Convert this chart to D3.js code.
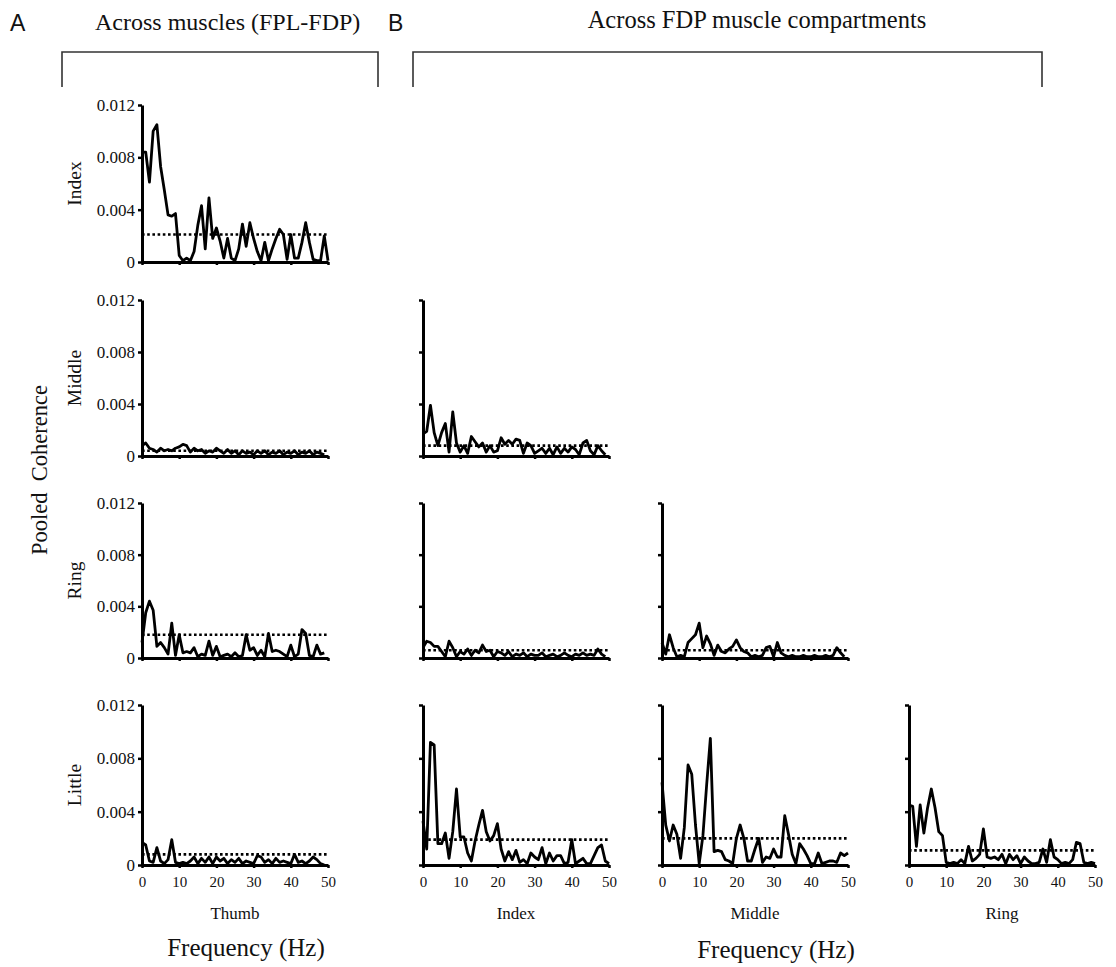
<!DOCTYPE html>
<html>
<head>
<meta charset="utf-8">
<script src="https://cdn.jsdelivr.net/npm/d3@7"></script>
<style>
  body { margin: 0; background: #fff; }
  svg text { fill: #111; }
</style>
</head>
<body>
<script>
// labels and ticks
var rowNames = ['Index', 'Middle', 'Ring', 'Little'];
var colNames = ['Thumb', 'Index', 'Middle', 'Ring'];
var yTicks = [0, 0.004, 0.008, 0.012];
var xTicks = [0, 10, 20, 30, 40, 50];

// pooled coherence, one value per 1 Hz bin
var thumbIndex = [0.0084,0.0084,0.0061,0.0100,0.0105,0.0073,0.0055,0.0036,0.0035,0.0037,0.0005,0.0001,0.0003,0.0001,0.0008,0.0028,0.0043,0.0010,0.0049,0.0018,0.0026,0.0016,0.0003,0.0018,0.0003,0.0001,0.0010,0.0029,0.0012,0.0030,0.0018,0.0008,0.0001,0.0015,0.0001,0.0010,0.0018,0.0025,0.0021,0.0002,0.0021,0.0003,0.0003,0.0015,0.0030,0.0015,0.0002,0.0001,0.0001,0.0020,0.0001];
var thumbMiddle = [0.0008,0.0010,0.0006,0.0005,0.0003,0.0006,0.0004,0.0005,0.0004,0.0006,0.0007,0.0009,0.0008,0.0003,0.0006,0.0004,0.0005,0.0002,0.0004,0.0003,0.0006,0.0004,0.0002,0.0005,0.0002,0.0004,0.0001,0.0004,0.0002,0.0003,0.0001,0.0004,0.0002,0.0004,0.0001,0.0003,0.0002,0.0004,0.0001,0.0003,0.0002,0.0004,0.0001,0.0003,0.0002,0.0004,0.0001,0.0003,0.0002,0.0001];
var thumbRing = [0.0012,0.0035,0.0044,0.0037,0.0009,0.0012,0.0008,0.0003,0.0027,0.0002,0.0018,0.0004,0.0005,0.0004,0.0008,0.0001,0.0003,0.0002,0.0013,0.0002,0.0009,0.0001,0.0002,0.0003,0.0001,0.0004,0.0001,0.0002,0.0018,0.0006,0.0008,0.0002,0.0006,0.0001,0.0019,0.0005,0.0006,0.0005,0.0003,0.0001,0.0010,0.0001,0.0003,0.0022,0.0019,0.0002,0.0001,0.0010,0.0003,0.0004];
var thumbLittle = [0.0017,0.0015,0.0003,0.0002,0.0013,0.0003,0.0001,0.0004,0.0019,0.0002,0.0001,0.0002,0.0001,0.0003,0.0006,0.0001,0.0005,0.0002,0.0006,0.0001,0.0006,0.0003,0.0005,0.0001,0.0004,0.0002,0.0005,0.0001,0.0003,0.0002,0.0001,0.0007,0.0006,0.0002,0.0004,0.0001,0.0005,0.0002,0.0003,0.0002,0.0001,0.0008,0.0002,0.0003,0.0001,0.0003,0.0006,0.0004,0.0001,0.0000];
var indexMiddle = [0.0017,0.0019,0.0039,0.0018,0.0008,0.0018,0.0025,0.0003,0.0034,0.0010,0.0003,0.0008,0.0002,0.0015,0.0011,0.0007,0.0010,0.0003,0.0008,0.0003,0.0004,0.0014,0.0009,0.0012,0.0009,0.0013,0.0012,0.0002,0.0010,0.0008,0.0002,0.0004,0.0006,0.0002,0.0006,0.0001,0.0007,0.0002,0.0006,0.0003,0.0007,0.0005,0.0001,0.0010,0.0012,0.0004,0.0001,0.0008,0.0004,0.0001];
var indexRing = [0.0008,0.0013,0.0012,0.0009,0.0009,0.0005,0.0001,0.0013,0.0008,0.0001,0.0005,0.0003,0.0007,0.0002,0.0006,0.0004,0.0010,0.0005,0.0006,0.0001,0.0005,0.0004,0.0002,0.0005,0.0001,0.0003,0.0002,0.0004,0.0001,0.0003,0.0002,0.0002,0.0004,0.0001,0.0002,0.0003,0.0001,0.0002,0.0004,0.0002,0.0001,0.0003,0.0002,0.0004,0.0002,0.0003,0.0002,0.0007,0.0003,0.0001];
var indexLittle = [0.0033,0.0012,0.0092,0.0090,0.0016,0.0016,0.0024,0.0005,0.0025,0.0057,0.0021,0.0021,0.0009,0.0003,0.0018,0.0030,0.0041,0.0025,0.0018,0.0022,0.0031,0.0012,0.0003,0.0010,0.0004,0.0011,0.0002,0.0004,0.0001,0.0009,0.0006,0.0004,0.0013,0.0001,0.0009,0.0003,0.0007,0.0007,0.0001,0.0002,0.0019,0.0001,0.0003,0.0005,0.0001,0.0001,0.0007,0.0013,0.0015,0.0003,0.0001];
var middleRing = [0.0012,0.0003,0.0018,0.0008,0.0001,0.0002,0.0001,0.0012,0.0015,0.0018,0.0027,0.0008,0.0017,0.0011,0.0002,0.0010,0.0005,0.0004,0.0007,0.0009,0.0014,0.0008,0.0005,0.0004,0.0001,0.0002,0.0001,0.0002,0.0008,0.0009,0.0001,0.0012,0.0004,0.0002,0.0001,0.0002,0.0001,0.0001,0.0002,0.0001,0.0001,0.0002,0.0001,0.0001,0.0002,0.0001,0.0002,0.0008,0.0004,0.0001];
var middleLittle = [0.0062,0.0030,0.0018,0.0030,0.0023,0.0005,0.0028,0.0075,0.0068,0.0030,0.0001,0.0022,0.0060,0.0095,0.0010,0.0011,0.0010,0.0004,0.0003,0.0001,0.0020,0.0030,0.0020,0.0003,0.0003,0.0012,0.0020,0.0002,0.0006,0.0005,0.0012,0.0006,0.0006,0.0037,0.0023,0.0008,0.0001,0.0016,0.0012,0.0007,0.0001,0.0001,0.0009,0.0001,0.0002,0.0003,0.0003,0.0002,0.0009,0.0007,0.0009];
var ringLittle = [0.0045,0.0044,0.0014,0.0045,0.0024,0.0043,0.0057,0.0043,0.0025,0.0022,0.0002,0.0001,0.0002,0.0001,0.0004,0.0001,0.0014,0.0003,0.0005,0.0008,0.0027,0.0006,0.0005,0.0006,0.0004,0.0008,0.0001,0.0008,0.0004,0.0007,0.0001,0.0006,0.0003,0.0001,0.0001,0.0002,0.0012,0.0002,0.0019,0.0006,0.0004,0.0001,0.0002,0.0001,0.0004,0.0017,0.0016,0.0002,0.0001,0.0002,0.0001];

// significance levels (dotted lines), same order as the panel list below
var thresholds = [0.0021, 0.0004, 0.0018, 0.0008, 0.0008, 0.0006, 0.0019, 0.0006, 0.0020, 0.0011];

var panels = [
  {row: 0, col: 0, values: thumbIndex},
  {row: 1, col: 0, values: thumbMiddle},
  {row: 2, col: 0, values: thumbRing},
  {row: 3, col: 0, values: thumbLittle},
  {row: 1, col: 1, values: indexMiddle},
  {row: 2, col: 1, values: indexRing},
  {row: 3, col: 1, values: indexLittle},
  {row: 2, col: 2, values: middleRing},
  {row: 3, col: 2, values: middleLittle},
  {row: 3, col: 3, values: ringLittle}
];
panels.forEach(function(p, i) { p.threshold = thresholds[i]; });

// layout
var width = 1116, height = 967;
var colLeft = [142, 423, 662, 909];
var plotW = 186;
var rowTop = [105, 300, 503, 705];
var rowBottom = [262, 456, 658, 865];
var serif = '"Liberation Serif", "Times New Roman", serif';

var svg = d3.select('body').append('svg')
    .attr('width', width)
    .attr('height', height);

// headers
svg.append('text').attr('x', 10).attr('y', 31)
    .style('font-family', '"Liberation Sans", Arial, sans-serif')
    .style('font-size', '23px').text('A');
svg.append('text').attr('x', 388).attr('y', 31)
    .style('font-family', '"Liberation Sans", Arial, sans-serif')
    .style('font-size', '23px').text('B');
svg.append('text').attr('x', 95).attr('y', 30)
    .style('font-family', serif).style('font-size', '24px')
    .text('Across muscles (FPL-FDP)');
svg.append('text').attr('x', 757).attr('y', 28)
    .attr('text-anchor', 'middle')
    .style('font-family', serif).style('font-size', '24.5px')
    .text('Across FDP muscle compartments');

function bracket(x0, x1) {
  svg.append('path')
      .attr('d', 'M' + x0 + ',87V52H' + x1 + 'V87')
      .attr('fill', 'none')
      .attr('stroke', '#333')
      .attr('stroke-width', 1.6);
}
bracket(62, 378);
bracket(413, 1042);

// shared labels
svg.append('text')
    .attr('transform', 'translate(47,470) rotate(-90)')
    .attr('text-anchor', 'middle')
    .style('font-family', serif).style('font-size', '22.5px')
    .style('white-space', 'pre')
    .text('Pooled  Coherence');

rowNames.forEach(function(name, r) {
  svg.append('text')
      .attr('transform', 'translate(81,' + ((rowTop[r] + rowBottom[r]) / 2) + ') rotate(-90)')
      .attr('text-anchor', 'middle')
      .style('font-family', serif).style('font-size', '19.5px')
      .text(name);
});

colNames.forEach(function(name, c) {
  svg.append('text')
      .attr('x', colLeft[c] + plotW / 2)
      .attr('y', 919)
      .attr('text-anchor', 'middle')
      .style('font-family', serif).style('font-size', '17px')
      .text(name);
});

svg.append('text').attr('x', 246).attr('y', 956)
    .attr('text-anchor', 'middle')
    .style('font-family', serif).style('font-size', '25px')
    .text('Frequency (Hz)');
svg.append('text').attr('x', 776).attr('y', 958)
    .attr('text-anchor', 'middle')
    .style('font-family', serif).style('font-size', '25px')
    .text('Frequency (Hz)');

// panels
panels.forEach(function(p) {
  var x = d3.scaleLinear().domain([0, 50]).range([colLeft[p.col], colLeft[p.col] + plotW]);
  var y = d3.scaleLinear().domain([0, 0.012]).range([rowBottom[p.row], rowTop[p.row]]);
  var g = svg.append('g');

  var line = d3.line()
      .x(function(d, i) { return x(i); })
      .y(function(d) { return y(d); });

  g.append('line')
      .attr('x1', x(0)).attr('x2', x(50))
      .attr('y1', y(p.threshold)).attr('y2', y(p.threshold))
      .attr('stroke', '#000')
      .attr('stroke-width', 2.6)
      .attr('stroke-dasharray', '2.6,2.6');

  g.append('path')
      .datum(p.values)
      .attr('d', line)
      .attr('fill', 'none')
      .attr('stroke', '#000')
      .attr('stroke-width', 2.8)
      .attr('stroke-linejoin', 'round');

  var yAxis = d3.axisLeft(y).tickValues(yTicks).tickSize(4).tickSizeOuter(0).tickPadding(3)
      .tickFormat(p.col == 0 ? function(d) { return d == 0 ? '0' : d3.format('.3f')(d); } : '');
  var ya = g.append('g').attr('transform', 'translate(' + x(0) + ',0)').call(yAxis);

  var xAxis = d3.axisBottom(x).tickValues(xTicks).tickSize(3).tickSizeOuter(0).tickPadding(8)
      .tickFormat(p.row == 3 ? d3.format('d') : '');
  var xa = g.append('g').attr('transform', 'translate(0,' + y(0) + ')').call(xAxis);

  [ya, xa].forEach(function(a) {
    a.attr('font-family', serif);
    a.select('.domain').attr('stroke', '#000').attr('stroke-width', 3);
    a.selectAll('.tick line').attr('stroke', '#000').attr('stroke-width', 2.5);
    a.selectAll('.tick text').style('font-family', serif).attr('fill', '#111');
  });
  ya.selectAll('.tick text').style('font-size', '17px');
  xa.selectAll('.tick text').style('font-size', '15px');
});
</script>
</body>
</html>
